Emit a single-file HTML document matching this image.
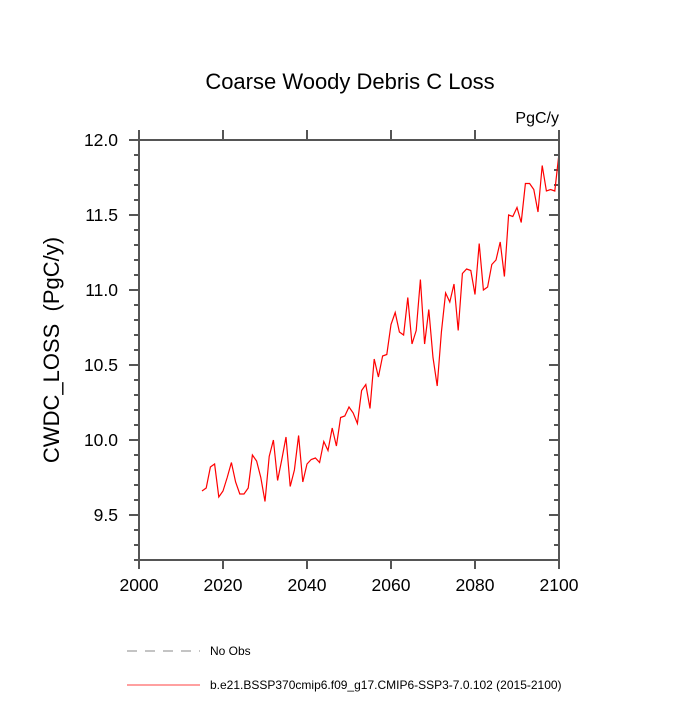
<!DOCTYPE html>
<html><head><meta charset="utf-8"><style>
body{margin:0;background:#fff;}
svg text{font-family:"Liberation Sans",sans-serif;fill:#000;}
</style></head><body>
<svg id="chart" width="700" height="700" viewBox="0 0 700 700">
<text x="350" y="89" font-size="22" text-anchor="middle">Coarse Woody Debris C Loss</text>
<text x="559" y="123" font-size="16" text-anchor="end">PgC/y</text>
<text transform="translate(59,350) rotate(-90)" font-size="22" text-anchor="middle">CWDC_LOSS&#160;&#160;(PgC/y)</text>
<g id="axes"></g>
<polyline id="series" fill="none" stroke="#ff0000" stroke-width="1.2"/>
<rect x="139" y="140" width="420" height="420" fill="none" stroke="#555" stroke-width="2"/>
<line x1="127" y1="651" x2="200" y2="651" stroke="#888" stroke-width="1" stroke-dasharray="10,8"/>
<text x="210" y="655" font-size="12">No Obs</text>
<line x1="127" y1="685" x2="200" y2="685" stroke="#ff0000" stroke-width="0.8"/>
<text x="210" y="689" font-size="12">b.e21.BSSP370cmip6.f09_g17.CMIP6-SSP3-7.0.102 (2015-2100)</text>
</svg>
<script>
const years=[];for(let y=2015;y<=2100;y++)years.push(y);
const values=[9.66,9.68,9.82,9.84,9.62,9.66,9.75,9.85,9.72,9.64,9.64,9.68,9.90,9.86,9.75,9.59,9.89,10.00,9.73,9.87,10.02,9.69,9.80,10.03,9.72,9.84,9.87,9.88,9.85,9.99,9.93,10.08,9.96,10.15,10.16,10.22,10.18,10.11,10.33,10.37,10.21,10.54,10.42,10.56,10.57,10.77,10.85,10.72,10.70,10.95,10.64,10.73,11.07,10.64,10.87,10.55,10.36,10.72,10.98,10.92,11.04,10.73,11.11,11.14,11.13,10.97,11.31,11.00,11.02,11.17,11.20,11.32,11.09,11.50,11.49,11.55,11.45,11.71,11.71,11.67,11.52,11.83,11.66,11.67,11.66,11.91];
const xTicks=[2000,2020,2040,2060,2080,2100];
const yTicks=[9.5,10.0,10.5,11.0,11.5,12.0];
const NS='http://www.w3.org/2000/svg';
const X=v=>139+(v-2000)*4.2;
const Y=v=>140+(12.0-v)*150;
const g=document.getElementById('axes');
function ln(x1,y1,x2,y2,name){const l=document.createElementNS(NS,'line');
l.setAttribute('x1',x1);l.setAttribute('y1',y1);l.setAttribute('x2',x2);l.setAttribute('y2',y2);
l.setAttribute('stroke','#555');l.setAttribute('stroke-width','2');


g.appendChild(l);}
function tx(x,y,s,anchor,name){const t=document.createElementNS(NS,'text');
t.setAttribute('x',x);t.setAttribute('y',y);t.setAttribute('font-size','17.5');t.setAttribute('text-anchor',anchor);t.textContent=s;


g.appendChild(t);}
xTicks.forEach(v=>{const x=X(v);ln(x,560,x,569,'x-tick');ln(x,140,x,130,'x-tick-top');tx(x,591,String(v),'middle','x-tick-label');});
for(let k=0;k<=28;k++){const v=9.2+k*0.1;const y=Y(v);const major=yTicks.some(t=>Math.abs(t-v)<1e-6);
ln(139,y,major?129:134,y,'y-tick');ln(559,y,major?549:554,y,'y-tick-right');}
yTicks.forEach(v=>tx(118,Y(v)+6,v.toFixed(1),'end','y-tick-label'));
const pl=document.getElementById('series');
pl.setAttribute('points',years.map((yr,i)=>X(yr)+','+Y(values[i])).join(' '));
</script>
</body></html>
